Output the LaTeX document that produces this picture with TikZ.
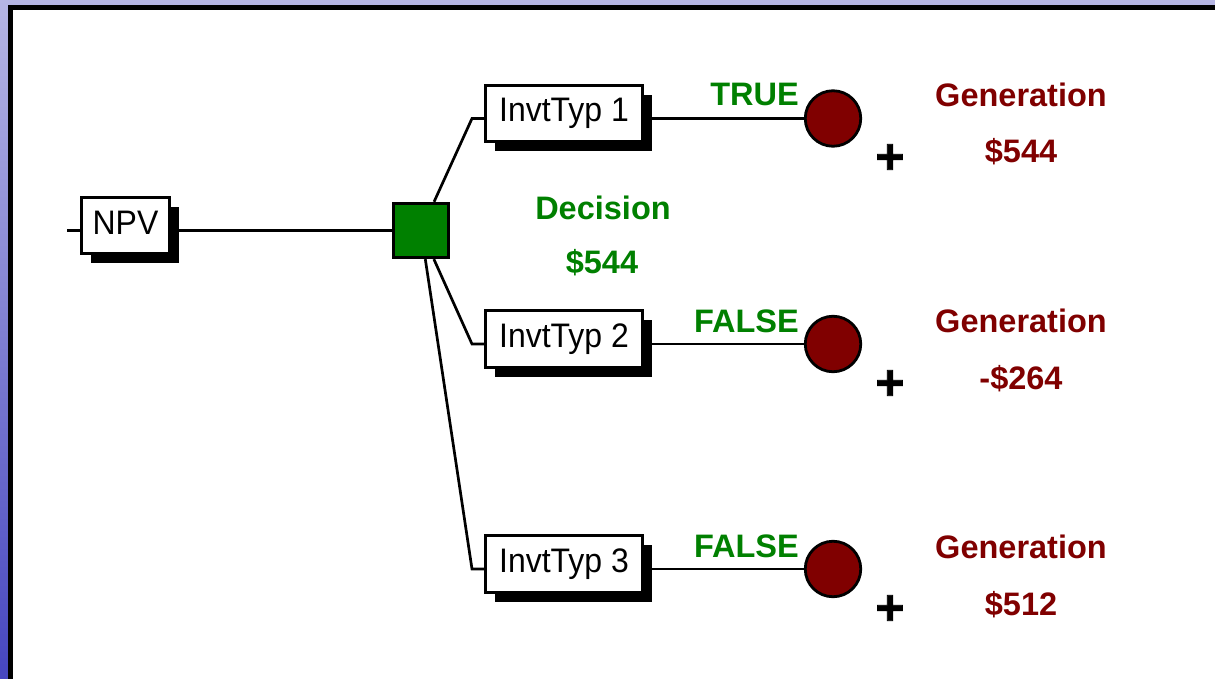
\documentclass[tikz,border=0pt]{standalone}
\usepackage{fontspec}
\setmainfont{Liberation Sans}
\newfontfamily\boxfont[FakeStretch=0.94]{Liberation Sans}
\newfontfamily\heavyfont[FakeBold=1.6]{Liberation Sans Bold}
\usetikzlibrary{shadows}
\definecolor{dgreen}{RGB}{0,128,0}
\definecolor{dred}{RGB}{128,0,0}
\definecolor{bandtop}{RGB}{182,182,228}
\definecolor{bandbot}{RGB}{70,70,192}

\begin{document}
\begin{tikzpicture}[x=1pt,y=-1pt,
  wire/.style={line width=2.7pt},
  varbox/.style={draw, line width=2.8pt, fill=white, rectangle,
    minimum height=56.5pt, inner sep=0pt, text height=24.5pt, text depth=7.5pt,
    font=\boxfont\fontsize{34}{40}\selectfont,
    drop shadow={shadow xshift=9.5pt, shadow yshift=-9.5pt, fill=black, opacity=1}},
  decbox/.style={draw, line width=2.8pt, fill=dgreen, rectangle,
    minimum size=54.5pt, inner sep=0pt},
  chance/.style={circle, draw, line width=2.8pt, fill=dred,
    minimum size=55.5pt, inner sep=0pt},
  branchlbl/.style={text=dgreen, font=\fontsize{32.5}{38}\selectfont\bfseries,
    inner sep=0pt, anchor=base east},
  declbl/.style={text=dgreen, font=\fontsize{32.5}{38}\selectfont\bfseries,
    inner sep=0pt, anchor=base},
  genlbl/.style={text=dred, font=\fontsize{32.5}{38}\selectfont\bfseries,
    inner sep=0pt, anchor=base},
  pluslbl/.style={font=\heavyfont\fontsize{50}{50}\selectfont, inner sep=0pt}]

\useasboundingbox (0,0) rectangle (1215,679);

% slide frame: shaded band, black rule, white panel
\shade[top color=bandtop, bottom color=bandbot] (0,0) rectangle (1215,679);
\fill[black] (8,5) rectangle (1215,679);
\fill[white] (13,10) rectangle (1215,679);

% value node and decision node
\coordinate (npvin) at (67,230.5);
\node[varbox, minimum width=88.5pt] (npv) at (125.5,225.5) {NPV};
\node[decbox] (dec) at (421,230.5) {};

% alternatives
\node[varbox, minimum width=157.5pt] (b1) at (564,113.5) {InvtTyp 1};
\node[varbox, minimum width=157.5pt] (b2) at (564,339) {InvtTyp 2};
\node[varbox, minimum width=157.5pt] (b3) at (564,564) {InvtTyp 3};

% chance nodes
\node[chance] (c1) at (833,118.5) {};
\node[chance] (c2) at (833,344) {};
\node[chance] (c3) at (833,569) {};

% branch elbows
\coordinate (k1) at (472,118.5);
\coordinate (k2) at (472,344);
\coordinate (k3) at (472,569);

% connectors
\draw[wire] (npvin) -- ([yshift=-5pt]npv.west);
\draw[wire] ([yshift=-5pt]npv.east) -- (dec.west);
\draw[wire] (dec) -- (k1) -- ([yshift=-5pt]b1.west);
\draw[wire] (dec) -- (k2) -- ([yshift=-5pt]b2.west);
\draw[wire] (dec) -- (k3) -- ([yshift=-5pt]b3.west);
\draw[wire] ([yshift=-5pt]b1.east) -- (c1.west);
\draw[wire] ([yshift=-5pt]b2.east) -- (c2.west);
\draw[wire] ([yshift=-5pt]b3.east) -- (c3.west);

% branch labels
\node[branchlbl] (t1) at (799,106) {TRUE};
\node[branchlbl] (t2) at (799,332) {FALSE};
\node[branchlbl] (t3) at (799,557) {FALSE};

% decision value
\node[declbl] (dname) at (603,219) {Decision};
\node[declbl] (dval) at (602,273) {\$544};

% outcome values
\node[genlbl] (g1) at (1021,107) {Generation};
\node[genlbl] (v1) at (1021,163) {\$544};
\node[genlbl] (g2) at (1021,332) {Generation};
\node[genlbl] (v2) at (1021,389) {-\$264};
\node[genlbl] (g3) at (1021,558) {Generation};
\node[genlbl] (v3) at (1021,615) {\$512};

% expand markers
\node[pluslbl] (p1) at (890,159) {+};
\node[pluslbl] (p2) at (890,385) {+};
\node[pluslbl] (p3) at (890,610) {+};
\end{tikzpicture}
\end{document}
